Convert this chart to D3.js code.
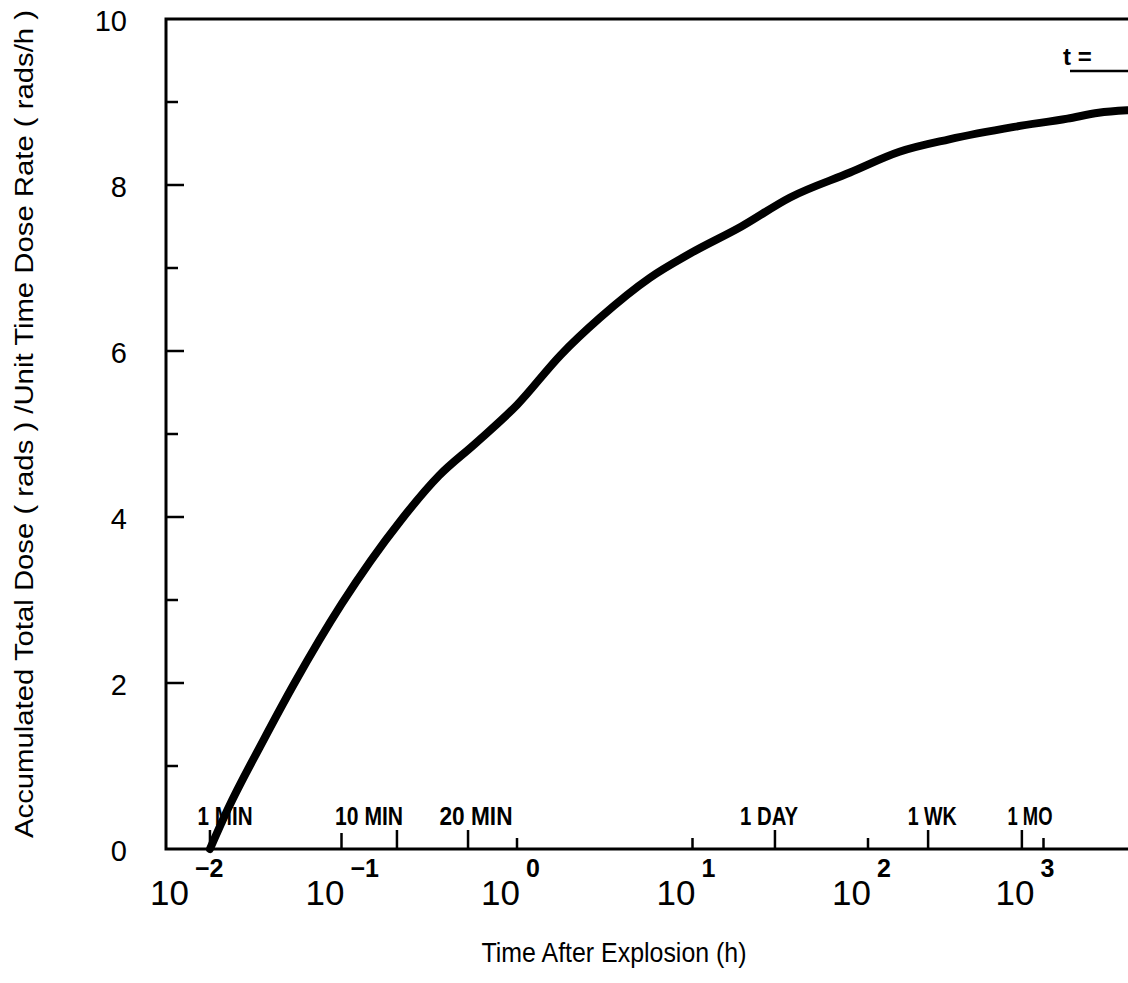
<!DOCTYPE html>
<html>
<head>
<meta charset="utf-8">
<script src="https://cdnjs.cloudflare.com/ajax/libs/d3/7.8.5/d3.min.js"></script>
<style>
  body { margin: 0; background: #fff; }
  svg { display: block; }
  text { fill: #000; }
</style>
</head>
<body>
<svg id="chart"></svg>
<script>
// accumulated dose curve (hours, dose)
const curveHours = [0.0178, 0.0225, 0.0357, 0.054, 0.1, 0.216, 0.36, 0.575, 1.0, 1.77, 2.97, 5.7, 9.8, 19, 36, 79, 151, 290, 680, 1370, 2060, 3000];
const curveDose  = [0, 0.48, 1.3, 2.0, 2.95, 3.95, 4.5, 4.88, 5.35, 5.95, 6.4, 6.88, 7.18, 7.5, 7.85, 8.15, 8.4, 8.55, 8.7, 8.8, 8.87, 8.9];

const decadeExponents = [-2, -1, 0, 1, 2, 3];
const yTickValues = [0, 1, 2, 3, 4, 5, 6, 7, 8, 9, 10];

// time markers along the bottom axis
const markerLabels = ['1 MIN', '10 MIN', '20 MIN', '1 DAY', '1 WK', '1 MO'];
const markerTickHours = [0.0178, 0.207, 0.526, 29.5, 220, 753];
const markerLabelHours = [0.0217, 0.1436, 0.584, 27.3, 232, 838];
const markerLabelWidths = [55, 68, 73, 58, 49, 45];

const width = 1128;
const height = 983;

const svg = d3.select('#chart').attr('width', width).attr('height', height);

const x = d3.scaleLog().domain([0.01, 3000]).range([166, 166 + 175.5 * Math.log10(300000)]);
const y = d3.scaleLinear().domain([0, 10]).range([849, 19]);

// frame: left, bottom, top
svg.append('path')
    .attr('d', `M${width},${y(10)} H${x(0.01)} V${y(0)} H${width}`)
    .attr('fill', 'none')
    .attr('stroke', '#000')
    .attr('stroke-width', 3);

// y ticks pointing inward
svg.append('g')
    .selectAll('line')
    .data(yTickValues.filter(v => v > 0 && v < 10))
    .join('line')
    .attr('x1', x(0.01))
    .attr('x2', d => x(0.01) + (d % 2 === 0 ? 18 : 12))
    .attr('y1', d => y(d))
    .attr('y2', d => y(d))
    .attr('stroke', '#000')
    .attr('stroke-width', 2.5);

svg.append('g')
    .selectAll('text')
    .data(yTickValues.filter(v => v % 2 === 0))
    .join('text')
    .attr('x', 127)
    .attr('y', d => y(d) + 2)
    .attr('text-anchor', 'end')
    .attr('dominant-baseline', 'central')
    .style('font-family', 'Liberation Sans, Arial, sans-serif')
    .style('font-size', '29px')
    .text(d => d);

// decade ticks + labels
const decades = decadeExponents.map(e => Math.pow(10, e));
svg.append('g')
    .selectAll('line')
    .data(decades.filter(d => d > 0.01))
    .join('line')
    .attr('x1', d => x(d))
    .attr('x2', d => x(d))
    .attr('y1', y(0))
    .attr('y2', d => y(0) - (d === 0.1 ? 16 : 11))
    .attr('stroke', '#000')
    .attr('stroke-width', 2.5);

// the printed labels drift a little off their decades at both ends
const nudge = e => (e === -2 ? 20 : e === 3 ? -12 : 0);

const decadeLabel = svg.append('g')
    .selectAll('g')
    .data(decadeExponents)
    .join('g')
    .attr('transform', e => `translate(${x(Math.pow(10, e)) + nudge(e)},0)`);

decadeLabel.append('text')
    .attr('x', 3)
    .attr('y', 905)
    .attr('text-anchor', 'end')
    .style('font-family', 'Liberation Sans Narrow, Liberation Sans, sans-serif')
    .style('font-size', '35px')
    .text('10');

decadeLabel.append('text')
    .attr('x', 9)
    .attr('y', 877)
    .style('font-family', 'Liberation Sans Narrow, Liberation Sans, sans-serif')
    .style('font-size', '25px')
    .style('font-weight', 'bold')
    .text(e => (e < 0 ? '\u2212' : '') + Math.abs(e));

// marker ticks
svg.append('g')
    .selectAll('line')
    .data(markerTickHours)
    .join('line')
    .attr('x1', d => x(d))
    .attr('x2', d => x(d))
    .attr('y1', y(0))
    .attr('y2', y(0) - 19)
    .attr('stroke', '#000')
    .attr('stroke-width', 2.5);

svg.append('g')
    .selectAll('text')
    .data(markerLabels)
    .join('text')
    .attr('x', (d, i) => x(markerLabelHours[i]))
    .attr('y', 825)
    .attr('text-anchor', 'middle')
    .attr('textLength', (d, i) => markerLabelWidths[i])
    .attr('lengthAdjust', 'spacingAndGlyphs')
    .style('font-family', 'Liberation Sans Narrow, Liberation Sans, sans-serif')
    .style('font-size', '26px')
    .style('font-weight', 'bold')
    .text(d => d);

// the curve
const pts = curveHours.map((h, i) => [x(h), y(curveDose[i])]);
svg.append('path')
    .attr('d', d3.line().curve(d3.curveMonotoneX)(pts))
    .attr('fill', 'none')
    .attr('stroke', '#000')
    .attr('stroke-width', 8)
    .attr('stroke-linecap', 'round');

// "t =" blank
svg.append('text')
    .attr('x', 1063)
    .attr('y', 65)
    .style('font-family', 'Liberation Sans Narrow, Liberation Sans, sans-serif')
    .style('font-size', '24px')
    .style('font-weight', 'bold')
    .text('t =');
svg.append('line')
    .attr('x1', 1070).attr('x2', width)
    .attr('y1', 71).attr('y2', 71)
    .attr('stroke', '#000')
    .attr('stroke-width', 2.5);

// axis titles
svg.append('text')
    .attr('x', 614)
    .attr('y', 962)
    .attr('text-anchor', 'middle')
    .attr('textLength', 265)
    .attr('lengthAdjust', 'spacingAndGlyphs')
    .style('font-family', 'Liberation Sans, Arial, sans-serif')
    .style('font-size', '28px')
    .text('Time After Explosion (h)');

svg.append('text')
    .attr('transform', 'translate(33,424) rotate(-90)')
    .attr('text-anchor', 'middle')
    .attr('textLength', 828)
    .attr('lengthAdjust', 'spacingAndGlyphs')
    .style('font-family', 'Liberation Sans, Arial, sans-serif')
    .style('font-size', '26px')
    .text('Accumulated Total Dose ( rads ) /Unit Time Dose Rate ( rads/h )');
</script>
</body>
</html>
